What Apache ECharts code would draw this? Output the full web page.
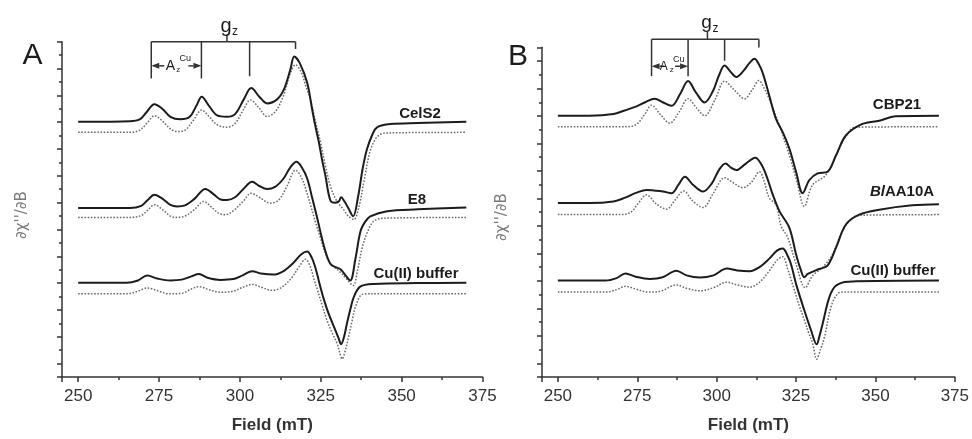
<!DOCTYPE html>
<html><head><meta charset="utf-8">
<script src="https://cdn.jsdelivr.net/npm/echarts@6/dist/echarts.min.js"></script>
<style>html,body{margin:0;padding:0;background:#fff}#c{width:972px;height:439px}</style>
</head><body><div id="c"></div>
<script>
// ---------- data (Field mT, signal in axis-tick units) ----------
const xTickLabels = [250, 275, 300, 325, 350, 375];

const celS2 = [[250,9.02],[260,9.02],[266,9.03],[269,9.1],[271,9.35],[273.6,9.67],[276,9.5],[278.5,9.2],[281.6,9.11],[284.5,9.2],[286.5,9.6],[288.2,9.95],[290.5,9.6],[293,9.25],[296,9.2],[298.5,9.3],[301.2,9.85],[303.5,10.27],[306,9.95],[308.4,9.7],[311.5,9.85],[313.6,10.22],[315.6,10.96],[316.8,11.45],[318.5,11.2],[320.8,10.47],[322.3,9.5],[323.3,8.87],[324.4,8.26],[325.4,7.6],[326.4,7.03],[328,6.07],[329.5,6.0],[330.6,6.05],[331.3,6.2],[332.3,6.05],[333.5,5.8],[335,5.49],[336.5,6.2],[338,7.3],[339.3,8.0],[341,8.55],[342.4,8.81],[346.5,8.93],[355,8.97],[370,9.02]];
const celS2Sim = [[250,8.62],[266,8.62],[269,8.7],[271.5,9.0],[273.6,9.24],[276,9.05],[278.5,8.75],[280.6,8.65],[283,8.7],[285.5,9.05],[288.2,9.45],[290.5,9.2],[293,8.9],[296,8.81],[298.5,8.95],[301,9.45],[303.3,9.83],[305.8,9.55],[308.4,9.21],[311,9.4],[313.5,10.0],[315.5,10.8],[317.2,11.14],[319,10.85],[320.5,10.3],[321.8,9.85],[323.3,9.05],[324.9,8.26],[326.4,7.4],[328,6.6],[330,6.05],[332,5.75],[333.5,5.5],[335.2,5.37],[336.8,5.85],[338.5,6.9],[340.2,7.9],[341.8,8.35],[343.5,8.55],[346,8.6],[370,8.62]];
const e8 = [[250,5.8],[266,5.8],[269.5,5.88],[271.5,6.1],[273.6,6.29],[276,6.15],[278.5,5.92],[280.6,5.86],[283,5.9],[286,6.15],[289.3,6.51],[292,6.3],[294,6.12],[296,6.1],[298.5,6.2],[301,6.5],[303.8,6.78],[306,6.62],[308.4,6.51],[311,6.6],[313.5,6.9],[315.5,7.3],[317.5,7.52],[319.2,7.3],[320.8,6.9],[322.3,6.2],[323.9,5.43],[325.2,4.75],[326.4,4.2],[328,3.71],[329.5,3.6],[331.1,3.52],[332.6,3.3],[334.1,3.1],[335.7,3.9],[337.3,4.94],[338.8,5.3],[340.3,5.49],[345.5,5.68],[355,5.75],[370,5.82]];
const e8Sim = [[250,5.45],[266,5.45],[269.5,5.52],[271.5,5.72],[273.6,5.92],[276,5.75],[278.5,5.5],[280.6,5.45],[283,5.5],[286,5.75],[288.8,6.04],[291.5,5.8],[293.5,5.6],[295.5,5.55],[298,5.7],[301,6.05],[303.5,6.35],[306,6.2],[309.4,5.98],[312,6.1],[314.5,6.6],[317.2,7.21],[319,6.95],[320.5,6.45],[321.8,5.92],[323.3,5.3],[324.9,4.69],[326.2,4.2],[327.4,3.83],[329.2,3.6],[331.1,3.4],[333,3.15],[335,2.91],[336.4,3.5],[337.8,4.32],[339.6,4.95],[341.4,5.31],[344.4,5.42],[370,5.45]];
const cuBufA = [[250,3.01],[265,3.01],[268.5,3.1],[271.3,3.28],[274.5,3.17],[278.5,3.1],[282,3.13],[285,3.25],[287.3,3.34],[290,3.2],[294,3.12],[298,3.15],[301,3.3],[303.8,3.44],[306.5,3.36],[310.4,3.32],[313.5,3.45],[316.5,3.75],[319,4.08],[320.8,4.18],[322.2,3.95],[323.3,3.59],[324.9,2.85],[326.2,2.3],[327.4,1.87],[329.5,1.25],[330.5,0.95],[331.3,0.72],[332.2,1.0],[333.1,1.5],[334.2,2.05],[335.2,2.48],[337.2,2.87],[341.4,2.97],[355,3.0],[370,3.01]];
const cuBufASim = [[250,2.6],[265,2.6],[268.5,2.7],[271.3,2.82],[274.5,2.72],[278,2.6],[282,2.62],[285,2.78],[287.3,2.87],[290.5,2.75],[294,2.66],[298,2.7],[301,2.85],[303.8,2.95],[306.5,2.85],[310,2.73],[313,2.85],[316,3.2],[318.5,3.65],[320.3,3.89],[321.8,3.6],[323,3.1],[324,2.73],[325.5,2.15],[326.9,1.62],[328.5,1.15],[330,0.76],[330.9,0.4],[331.6,0.17],[332.6,0.5],[333.6,1.0],[334.7,1.6],[335.7,2.11],[337.8,2.58],[340,2.6],[370,2.6]];

const cbp21 = [[250,9.01],[260,9.01],[267.5,9.07],[271,9.2],[274.8,9.35],[277.5,9.5],[280.5,9.63],[283,9.5],[285.8,9.37],[288.5,9.8],[291,10.27],[293.5,9.85],[296.2,9.49],[298.8,9.9],[300.8,10.5],[302.5,10.84],[304.3,10.62],[306.2,10.42],[308.5,10.65],[310.5,10.95],[311.9,11.08],[313.2,10.9],[314.5,10.57],[316.6,9.73],[318.7,8.89],[320.8,8.41],[322.9,7.81],[325,6.97],[327.1,6.19],[329.2,6.67],[331.8,6.91],[334.9,6.97],[337.6,7.57],[340.7,8.29],[345.9,8.71],[351.2,8.83],[356.4,8.99],[370,9.01]];
const cbp21Sim = [[250,8.61],[272,8.61],[274.8,8.7],[277.3,9.05],[279.5,9.39],[282.3,9.05],[285.2,8.74],[288.2,9.15],[291,9.63],[293.6,9.3],[296.2,9.01],[299.5,9.6],[302.5,10.27],[305.5,9.95],[308.8,9.63],[311.2,9.95],[313.3,10.29],[315,10.0],[316.6,9.61],[319.8,8.65],[322.9,7.57],[325.3,6.6],[327.6,5.71],[330.2,6.49],[334.4,6.85],[338.1,7.69],[340.7,8.29],[343.8,8.59],[370,8.61]];
const blAA10A = [[250,5.83],[260,5.83],[267.5,5.89],[271,6.02],[274.8,6.21],[277.9,6.31],[283.1,6.25],[285.8,6.19],[288,6.5],[290,6.79],[292.5,6.5],[295.7,6.25],[298.5,6.55],[300.8,7.05],[302.8,7.27],[304.5,7.12],[306.2,7.03],[309,7.25],[312.2,7.48],[314,7.25],[315.6,6.85],[317.7,6.13],[319.8,5.53],[322.9,4.93],[325,3.97],[326.5,3.4],[327.6,3.13],[328.7,3.25],[332.3,3.43],[334.9,3.55],[337.6,4.21],[340.7,5.05],[344.9,5.41],[351.2,5.59],[361.6,5.75],[370,5.79]];
const blAA10ASim = [[250,5.41],[270,5.41],[273,5.5],[275.5,5.85],[277.9,6.13],[281,5.8],[284.2,5.61],[287,5.95],[289.6,6.27],[292.5,5.9],[295.7,5.67],[299,6.2],[302.5,6.75],[305.5,6.55],[308.3,6.39],[311,6.6],[313.5,6.97],[315,6.6],[316.6,6.01],[318.7,5.77],[320.3,4.99],[322.4,4.57],[325,3.61],[327.9,2.75],[330.2,3.19],[333.4,3.49],[336.5,3.97],[339.6,4.81],[342.8,5.29],[346,5.39],[370,5.41]];
const cuBufB = [[250,3.01],[265,3.01],[268.5,3.1],[271.3,3.27],[274.5,3.15],[279,3.07],[283,3.13],[287.3,3.37],[290.5,3.2],[294.7,3.12],[299,3.2],[303.2,3.45],[306.5,3.38],[310.4,3.35],[313.5,3.5],[316.5,3.8],[319,4.1],[320.8,4.18],[322.2,3.95],[323.4,3.61],[325,2.89],[327.6,1.93],[329.7,1.21],[331.5,0.69],[332.4,1.0],[333.4,1.45],[335.5,2.41],[337.6,2.83],[341.5,2.97],[370,3.01]];
const cuBufBSim = [[250,2.59],[265,2.59],[268.5,2.68],[271.3,2.8],[274.5,2.7],[278.5,2.59],[282.5,2.63],[287.3,2.85],[290.5,2.73],[294.7,2.64],[299,2.75],[303.2,2.95],[306.5,2.85],[310.4,2.77],[313.5,2.95],[316.5,3.35],[319,3.75],[320.8,3.88],[322.3,3.45],[324.5,2.65],[326,2.1],[327.6,1.57],[329,1.1],[330.2,0.73],[331.5,0.15],[332.7,0.5],[334,0.97],[336,2.05],[338.1,2.53],[340,2.59],[370,2.59]];

// g_z hyperfine bracket annotations (field in mT, height in tick units)
const gzFieldsA = [272.6, 288.1, 303.0, 317.2];
const gzBottomA = [10.63, 10.63, 10.71, 11.73];
const gzLevelA = [12.0, 12.25, 11.1];   // bracket, centre tick top, arrow
const gzCentreA = 296.0;
const gzFieldsB = [279.5, 291.0, 302.5, 313.3];
const gzBottomB = [10.45, 10.45, 11.01, 11.49];
const gzLevelB = [11.79, 12.07, 10.81];
const gzCentreB = 297.1;

// ---------- chart ----------
const FONT = '"Liberation Sans", Arial, sans-serif';
const AX = '#333';
const chart = echarts.init(document.getElementById('c'));

function xMajor(g) {
  return {type:'value', gridIndex:g, position:'bottom', min:245, max:375, minInterval:25, maxInterval:25,
    axisLine:{show:true, onZero:false, lineStyle:{color:AX, width:1.5}},
    axisTick:{show:true, inside:false, length:5, lineStyle:{color:AX, width:1.5}},
    axisLabel:{show:true, margin:11, fontSize:17, color:AX, fontFamily:FONT,
      formatter: v => (xTickLabels.indexOf(Math.round(v*100)/100) >= 0 ? String(v) : '')},
    splitLine:{show:false},
    name:'Field (mT)', nameLocation:'middle', nameGap:40,
    nameTextStyle:{fontSize:17, fontWeight:'bold', color:AX, fontFamily:FONT}};
}
function xMinor(g) {
  return {type:'value', gridIndex:g, position:'bottom', min:245, max:375, minInterval:12.5, maxInterval:12.5,
    axisLine:{show:false, onZero:false}, axisTick:{show:true, inside:false, length:3, lineStyle:{color:AX, width:1.5}},
    axisLabel:{show:false}, splitLine:{show:false}};
}
function yMajor(g, max) {
  return {type:'value', gridIndex:g, position:'left', min:-0.5, max:max, minInterval:1, maxInterval:1,
    axisLine:{show:true, onZero:false, lineStyle:{color:AX, width:1.5}},
    axisTick:{show:true, inside:false, length:5, lineStyle:{color:AX, width:1.5}},
    axisLabel:{show:false}, splitLine:{show:false}};
}
function yMinor(g, max) {
  return {type:'value', gridIndex:g, position:'left', min:-0.5, max:max, minInterval:0.5, maxInterval:0.5,
    axisLine:{show:false, onZero:false}, axisTick:{show:true, inside:false, length:3, lineStyle:{color:AX, width:1.5}},
    axisLabel:{show:false}, splitLine:{show:false}};
}
function solid(data, xi, yi) {
  return {type:'line', data:data, xAxisIndex:xi, yAxisIndex:yi, symbol:'none', smooth:0.35,
    lineStyle:{color:'#1c1c1c', width:2}, z:3};
}
function dotted(data, xi, yi) {
  return {type:'line', data:data, xAxisIndex:xi, yAxisIndex:yi, symbol:'none', smooth:0.35,
    lineStyle:{color:'#6a6a6a', width:1.5, type:[1.6,1.6]}, z:2};
}

chart.setOption({
  animation:false,
  backgroundColor:'#fff',
  grid:[{left:62, top:41.7, width:420.5, height:339}, {left:542, top:47.3, width:414, height:333.7}],
  xAxis:[xMajor(0), xMinor(0), xMajor(1), xMinor(1)],
  yAxis:[yMajor(0, 12), yMinor(0, 12), yMajor(1, 11.5), yMinor(1, 11.5)],
  series:[
    dotted(celS2Sim,0,0), solid(celS2,0,0),
    dotted(e8Sim,0,0), solid(e8,0,0),
    dotted(cuBufASim,0,0), solid(cuBufA,0,0),
    dotted(cbp21Sim,2,2), solid(cbp21,2,2),
    dotted(blAA10ASim,2,2), solid(blAA10A,2,2),
    dotted(cuBufBSim,2,2), solid(cuBufB,2,2)
  ]
});

function txt(x, y, text, font, extra) {
  return Object.assign({type:'text', x:x, y:y, z:10,
    style:{text:text, font:font, fill:'#1c1c1c', align:'center', verticalAlign:'middle', textAlign:'center', textVerticalAlign:'middle'}}, extra || {});
}
function bracket(si, fields, bottoms, levels, centre, big) {
  const P = (x, y) => chart.convertToPixel({seriesIndex:si}, [x, y]);
  const els = [];
  const ls = {stroke:'#333', lineWidth:1.5};
  const l = P(fields[0], levels[0]), r = P(fields[3], levels[0]);
  els.push({type:'line', shape:{x1:l[0], y1:l[1], x2:r[0], y2:r[1]}, style:ls});
  fields.forEach((f, i) => {
    const a = P(f, levels[0]), b = P(f, bottoms[i]);
    els.push({type:'line', shape:{x1:a[0], y1:a[1], x2:b[0], y2:b[1]}, style:ls});
  });
  const c0 = P(centre, levels[0]), c1 = P(centre, levels[1]);
  els.push({type:'line', shape:{x1:c0[0], y1:c0[1], x2:c1[0], y2:c1[1]}, style:ls});
  const gs = big ? 20 : 19;
  els.push(txt(c1[0]-1, c1[1]-9, 'g', gs + 'px ' + FONT));
  els.push(txt(c1[0]+8, c1[1]-3, 'z', '12px ' + FONT));
  const p1 = P(fields[0], levels[2]), p2 = P(fields[1], levels[2]);
  const hl = 8, hh = 3;
  els.push({type:'line', shape:{x1:p1[0]+hl, y1:p1[1], x2:p1[0]+hl+5, y2:p1[1]}, style:ls});
  els.push({type:'line', shape:{x1:p2[0]-hl-5, y1:p2[1], x2:p2[0]-hl, y2:p2[1]}, style:ls});
  els.push({type:'polygon', shape:{points:[[p1[0],p1[1]],[p1[0]+hl,p1[1]-hh],[p1[0]+hl,p1[1]+hh]]}, style:{fill:'#333'}});
  els.push({type:'polygon', shape:{points:[[p2[0],p2[1]],[p2[0]-hl,p2[1]-hh],[p2[0]-hl,p2[1]+hh]]}, style:{fill:'#333'}});
  const mid = (p1[0] + p2[0]) / 2;
  const as = big ? 14 : 12;
  els.push(txt(mid - 6, p1[1], 'A', as + 'px ' + FONT, {}));
  els.push(txt(mid + 2, p1[1] + 4, 'z', '8px ' + FONT));
  els.push(txt(mid + 9, p1[1] - 7, 'Cu', '9px ' + FONT));
  return els;
}
function yName(x, y) {
  return {type:'text', x:x, y:y, rotation:Math.PI/2, z:10,
    style:{text:"\u2202\u03c7''/\u2202B", font:'15px "DejaVu Sans", sans-serif', fill:'#7a7a7a',
      align:'center', verticalAlign:'middle', textAlign:'center', textVerticalAlign:'middle'}};
}

const lb = 'bold 15px ' + FONT;
const graphic = [
  txt(32.5, 56, 'A', '30px ' + FONT, {}),
  txt(518, 57, 'B', '30px ' + FONT, {}),
  yName(22, 215), yName(502, 217),
  txt(420, 114, 'CelS2', lb),
  txt(417, 200, 'E8', lb),
  txt(416, 274, 'Cu(II) buffer', lb),
  txt(897, 105, 'CBP21', lb),
  {type:'text', x:902, y:192, z:10, style:{text:'{i|Bl}{n|AA10A}', align:'center', verticalAlign:'middle', textAlign:'center', textVerticalAlign:'middle',
    rich:{i:{fontStyle:'italic', fontWeight:'bold', fontSize:15, fontFamily:FONT, fill:'#1c1c1c'}, n:{fontWeight:'bold', fontSize:15, fontFamily:FONT, fill:'#1c1c1c'}}}},
  txt(893, 271, 'Cu(II) buffer', lb)
].concat(bracket(1, gzFieldsA, gzBottomA, gzLevelA, gzCentreA, true))
 .concat(bracket(7, gzFieldsB, gzBottomB, gzLevelB, gzCentreB, false));

chart.setOption({graphic: graphic});
</script></body></html>
